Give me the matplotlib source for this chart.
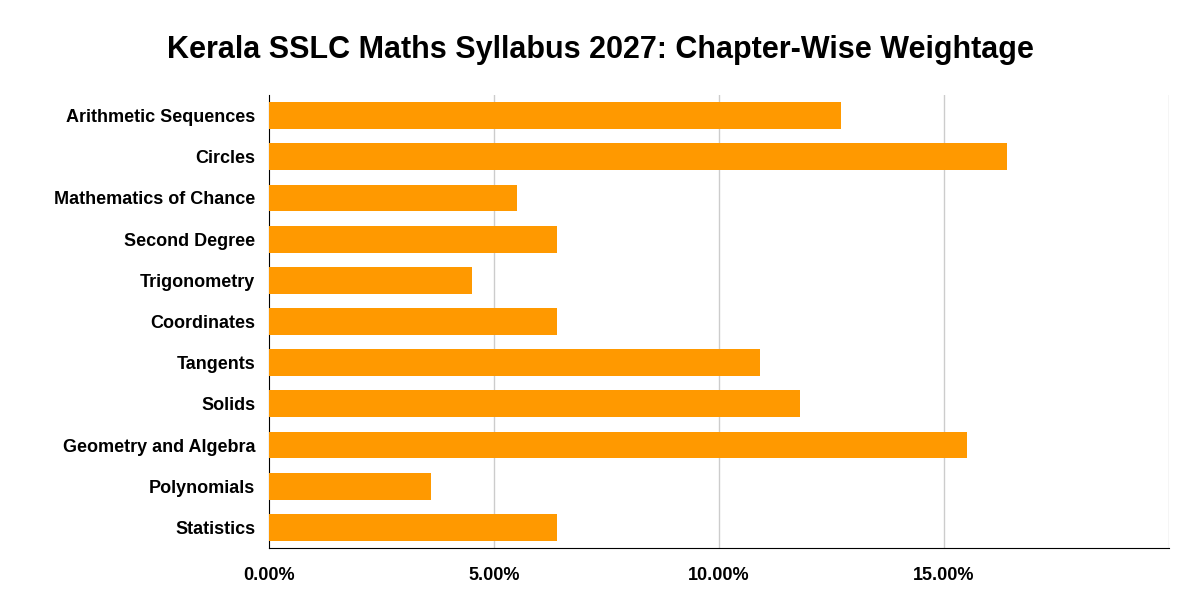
import matplotlib
matplotlib.use("Agg")
import matplotlib.pyplot as plt
from matplotlib.ticker import FuncFormatter

categories = ["Arithmetic Sequences", "Circles", "Mathematics of Chance", "Second Degree",
              "Trigonometry", "Coordinates", "Tangents", "Solids", "Geometry and Algebra",
              "Polynomials", "Statistics"]
values = [12.7, 16.4, 5.5, 6.4, 4.5, 6.4, 10.9, 11.8, 15.5, 3.6, 6.4]
xticks = [0, 5, 10, 15]

plt.rcParams['font.family'] = ['Liberation Sans', 'DejaVu Sans']
fig = plt.figure(figsize=(12, 6.14), dpi=100)
ax = fig.add_axes([269/1200, 1-548/614, 900/1200, (548-95)/614])
y = list(range(len(categories)))
ax.barh(y, values, height=0.65, color="#ff9900", zorder=3)
ax.set_ylim(len(categories)-0.5, -0.5)
ax.set_xlim(0, 20)
ax.set_yticks(y)
ax.set_yticklabels(categories, fontsize=13, fontweight='bold')
ax.set_xticks(xticks)
ax.xaxis.set_major_formatter(FuncFormatter(lambda v, p: f"{v:.2f}%"))
for lbl in ax.get_xticklabels():
    lbl.set_fontweight('bold'); lbl.set_fontsize(13)
for v in [5, 10, 15, 20]:
    ax.axvline(v, color="#cccccc", lw=1, zorder=1)
ax.tick_params(length=0, pad=10)
ax.tick_params(axis='x', pad=14)
for s in ['top', 'right']:
    ax.spines[s].set_visible(False)
ax.spines['left'].set_color('black'); ax.spines['bottom'].set_color('black')
fig.text(0.5, 1-50/614, "Kerala SSLC Maths Syllabus 2027: Chapter-Wise Weightage",
         ha='center', va='center', fontsize=22, fontweight='bold')
fig.savefig("out.png", dpi=100)
